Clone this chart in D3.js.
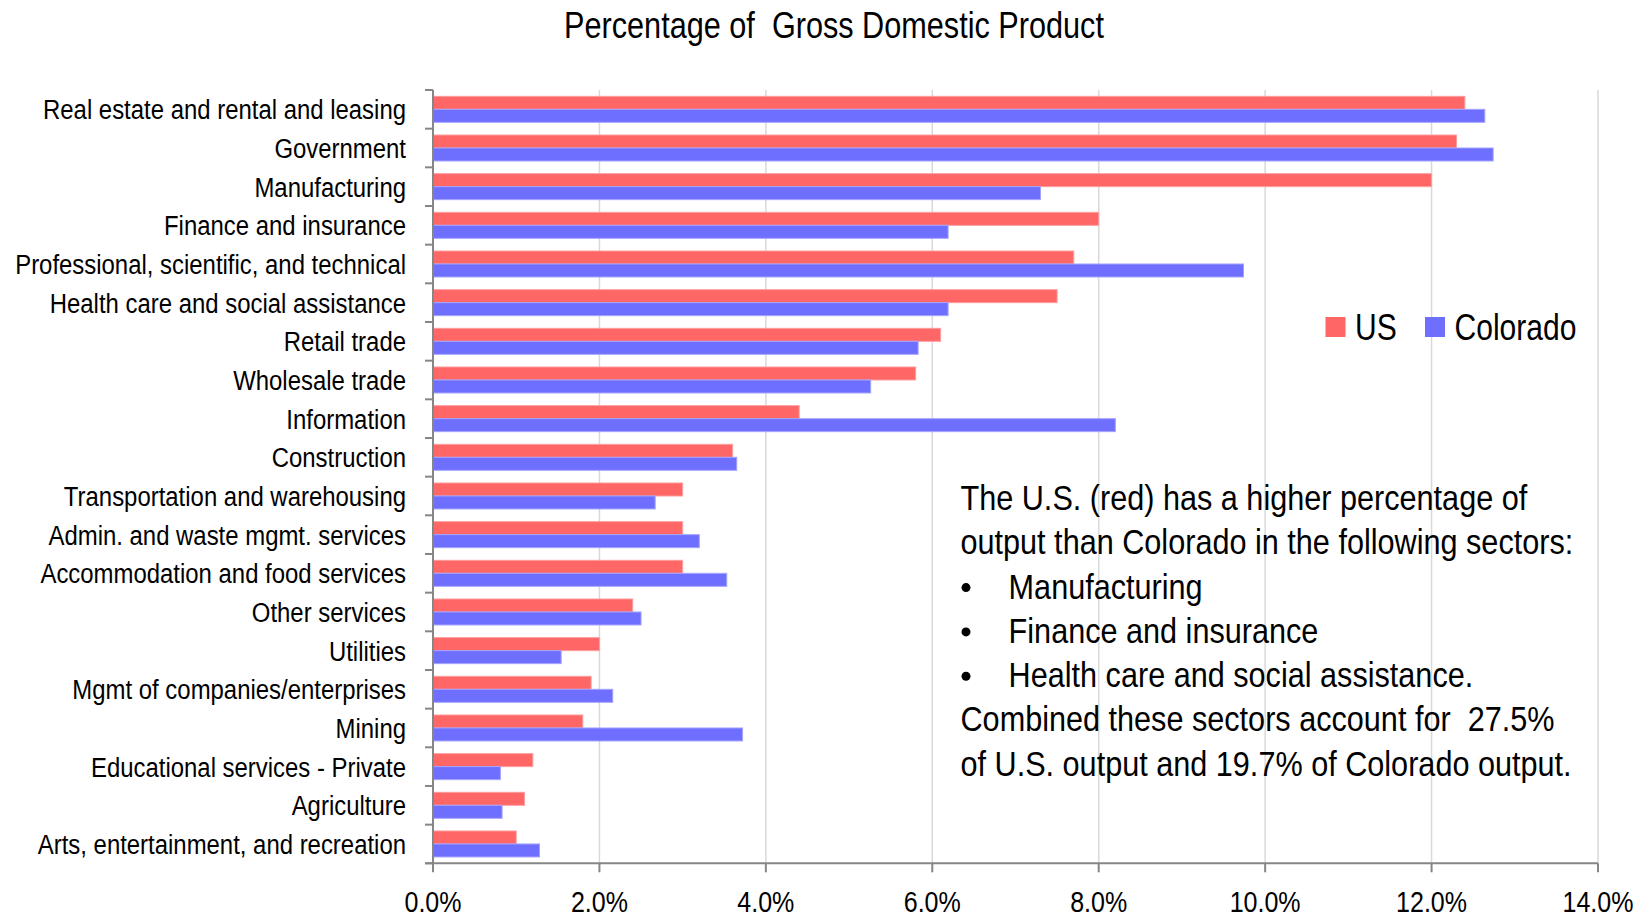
<!DOCTYPE html>
<html>
<head>
<meta charset="utf-8">
<script src="https://cdn.jsdelivr.net/npm/d3@7"></script>
<style>
  html, body { margin: 0; padding: 0; background: #fff; }
  svg { display: block; }
  text { font-family: "Liberation Sans", Arial, sans-serif; fill: #000; white-space: pre; }
</style>
</head>
<body>
<svg id="chart" width="1644" height="918"></svg>
<script>
// Sector shares of GDP (%), US vs Colorado
const categories = [
  "Real estate and rental and leasing",
  "Government",
  "Manufacturing",
  "Finance and insurance",
  "Professional, scientific, and technical",
  "Health care and social assistance",
  "Retail trade",
  "Wholesale trade",
  "Information",
  "Construction",
  "Transportation and warehousing",
  "Admin. and waste mgmt. services",
  "Accommodation and food services",
  "Other services",
  "Utilities",
  "Mgmt of companies/enterprises",
  "Mining",
  "Educational services - Private",
  "Agriculture",
  "Arts, entertainment, and recreation"
];
const usValues = [12.4, 12.3, 12.0, 8.0, 7.7, 7.5, 6.1, 5.8, 4.4, 3.6, 3.0, 3.0, 3.0, 2.4, 2.0, 1.9, 1.8, 1.2, 1.1, 1.0];
const coloradoValues = [12.64, 12.74, 7.3, 6.19, 9.74, 6.19, 5.83, 5.26, 8.2, 3.65, 2.67, 3.2, 3.53, 2.5, 1.54, 2.16, 3.72, 0.81, 0.83, 1.28];
const seriesNames = ["US", "Colorado"];
const seriesColors = ["#ff6666", "#6f6fff"];
const seriesStrokes = ["#ff9c9c", "#a3a3ff"];
const xTicks = [0, 2, 4, 6, 8, 10, 12, 14];
const titleText = "Percentage of  Gross Domestic Product";
const noteLines = [
  { text: "The U.S. (red) has a higher percentage of", bullet: false },
  { text: "output than Colorado in the following sectors:", bullet: false },
  { text: "Manufacturing", bullet: true },
  { text: "Finance and insurance", bullet: true },
  { text: "Health care and social assistance.", bullet: true },
  { text: "Combined these sectors account for  27.5%", bullet: false },
  { text: "of U.S. output and 19.7% of Colorado output.", bullet: false }
];

const svg = d3.select("#chart");
const margin = { left: 433, right: 46, top: 90, bottom: 54.7 };
const W = 1644, H = 918;

// Narrow-face emulation: squeeze text horizontally about its anchor point
// so that a reference string comes out at the given width.
function condense(sel, refText, refWidth) {
  const probe = sel.filter(function () { return this.textContent === refText; }).node() || sel.node();
  const f = refWidth / probe.getComputedTextLength();
  sel.each(function () {
    const t = d3.select(this);
    const ax = +t.attr("x");
    t.attr("transform", `translate(${ax * (1 - f)},0) scale(${f},1)`);
  });
}

const x = d3.scaleLinear().domain([0, 14]).range([margin.left, W - margin.right]);
const y = d3.scaleBand().domain(categories)
  .range([margin.top, H - margin.bottom])
  .paddingInner(0.328).paddingOuter(0.164);
const sub = d3.scaleBand().domain(seriesNames).range([0, y.bandwidth()]);

// vertical gridlines
svg.append("g").selectAll("line").data(xTicks.slice(1)).join("line")
  .attr("x1", d => x(d)).attr("x2", d => x(d))
  .attr("y1", margin.top).attr("y2", H - margin.bottom)
  .attr("stroke", "#d9d9d9").attr("stroke-width", 1.5);

// bars
const rows = categories.map((c, i) => ({ c, vals: [usValues[i], coloradoValues[i]] }));
const g = svg.append("g");
rows.forEach(r => {
  r.vals.forEach((v, k) => {
    g.append("rect")
      .attr("x", x(0))
      .attr("y", y(r.c) + sub(seriesNames[k]))
      .attr("width", x(v) - x(0))
      .attr("height", sub.bandwidth())
      .attr("fill", seriesColors[k])
      .attr("stroke", seriesStrokes[k])
      .attr("stroke-width", 1);
  });
});

// y axis: line, ticks at category boundaries, labels
const step = y.step();
const y0 = margin.top;
const yAxis = svg.append("g");
yAxis.append("line")
  .attr("x1", x(0)).attr("x2", x(0))
  .attr("y1", y0).attr("y2", H - margin.bottom)
  .attr("stroke", "#868686").attr("stroke-width", 2);
yAxis.selectAll("line.tick").data(d3.range(categories.length + 1)).join("line")
  .attr("class", "tick")
  .attr("x1", x(0) - 8).attr("x2", x(0))
  .attr("y1", i => y0 + i * step).attr("y2", i => y0 + i * step)
  .attr("stroke", "#868686").attr("stroke-width", 2);
const yLabels = yAxis.selectAll("text").data(categories).join("text")
  .attr("x", 406)
  .attr("y", d => y(d) + y.bandwidth() / 2)
  .attr("dy", "0.36em")
  .attr("text-anchor", "end")
  .attr("font-size", 28)
  .text(d => d);
condense(yLabels, "Professional, scientific, and technical", 391);

// x axis
const xAxisG = svg.append("g").attr("transform", `translate(0,${H - margin.bottom})`);
xAxisG.append("line")
  .attr("x1", x(0) - 8).attr("x2", x(14))
  .attr("stroke", "#868686").attr("stroke-width", 2);
xAxisG.selectAll("line.tick").data(xTicks).join("line")
  .attr("class", "tick")
  .attr("x1", d => x(d)).attr("x2", d => x(d))
  .attr("y1", 0).attr("y2", 9)
  .attr("stroke", "#868686").attr("stroke-width", 2);
const xLabels = xAxisG.selectAll("text").data(xTicks).join("text")
  .attr("x", d => x(d))
  .attr("y", 49)
  .attr("text-anchor", "middle")
  .attr("font-size", 30)
  .text(d => d3.format(".1f")(d) + "%");
condense(xLabels, "10.0%", 71);

// title
const title = svg.append("text")
  .attr("x", 834).attr("y", 38.5)
  .attr("text-anchor", "middle")
  .attr("font-size", 36)
  .text(titleText);
condense(title, titleText, 540);

// legend
const legend = svg.append("g");
const legendX = [1325.5, 1425];
seriesNames.forEach((n, k) => {
  legend.append("rect")
    .attr("x", legendX[k]).attr("y", 317)
    .attr("width", 20).attr("height", 20)
    .attr("fill", seriesColors[k]);
  legend.append("text")
    .attr("x", legendX[k] + 29.5).attr("y", 327)
    .attr("dy", "0.36em")
    .attr("font-size", 36)
    .text(n);
});
condense(legend.selectAll("text"), "Colorado", 122);

// annotation block
const note = svg.append("g");
noteLines.forEach((l, i) => {
  const by = 510 + i * 44.3;
  if (l.bullet) {
    note.append("circle").attr("cx", 966).attr("cy", by - 11).attr("r", 4.5).attr("fill", "#000");
  }
  note.append("text")
    .attr("x", l.bullet ? 1008.6 : 960.5)
    .attr("y", by)
    .attr("font-size", 35)
    .text(l.text);
});
condense(note.selectAll("text"), "output than Colorado in the following sectors:", 613);
</script>
</body>
</html>
